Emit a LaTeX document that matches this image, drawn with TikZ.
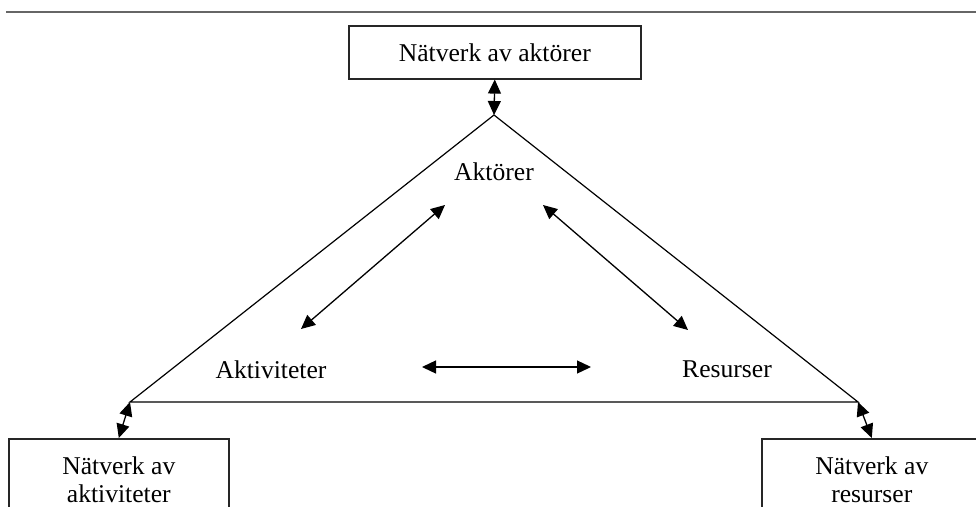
\documentclass[tikz,border=0pt]{standalone}
\usepackage{fontspec}
\setmainfont{Liberation Serif}
\usetikzlibrary{arrows.meta}

\tikzset{
  box/.style={draw=black!85, line width=1.6pt, inner sep=0pt, align=center,
    font=\fontsize{25.6}{28}\selectfont},
  label/.style={inner sep=0pt, anchor=base, font=\fontsize{25.6}{28}\selectfont},
  edge/.style={line width=1.2pt},
  link/.style={line width=1.3pt, {Triangle[length=14pt,width=13pt]}-{Triangle[length=14pt,width=13pt]}},
  rule/.style={draw=black!60, line width=1.6pt}
}

\begin{document}
\begin{tikzpicture}[x=1pt, y=-1pt]
  \useasboundingbox (0,0) rectangle (976,506);
  \clip (0,0) rectangle (976,506);

  % horizontal rule along the top
  \coordinate (ruleL) at (6,12);
  \coordinate (ruleR) at (976,12);
  \draw[rule] (ruleL) -- (ruleR);

  % outer boxes
  \node[box, minimum width=292pt, minimum height=53pt, anchor=north west]
    (netA) at (348,25) {Nätverk av aktörer};
  \node[box, minimum width=220pt, minimum height=82pt, anchor=north west]
    (netAct) at (8,438) {Nätverk av\\aktiviteter};
  \node[box, minimum width=220pt, minimum height=82pt, anchor=north west]
    (netRes) at (761,438) {Nätverk av\\resurser};

  % triangle corners
  \coordinate (apex) at (494,115);
  \coordinate (left) at (130,402);
  \coordinate (right) at (858,402);
  \draw[edge] (apex) -- (left) -- (right) -- cycle;

  % links between the boxes and the triangle
  \draw[link] (netA.south) -- (apex);
  \draw[link] (left) -- (netAct.north);
  \draw[link] (right) -- (netRes.north);

  % labels inside the triangle
  \node[label] (akt) at (494,180) {Aktörer};
  \node[label] (aktiv) at (271,378) {Aktiviteter};
  \node[label] (res) at (727,377) {Resurser};

  % relations between the three labels
  \coordinate (a1) at (445,205);
  \coordinate (a2) at (301,329);
  \coordinate (b1) at (543,205);
  \coordinate (b2) at (688,330);
  \coordinate (c1) at (422,367);
  \coordinate (c2) at (591,367);
  \draw[link] (a1) -- (a2);
  \draw[link] (b1) -- (b2);
  \draw[link] (c1) -- (c2);
\end{tikzpicture}
\end{document}
